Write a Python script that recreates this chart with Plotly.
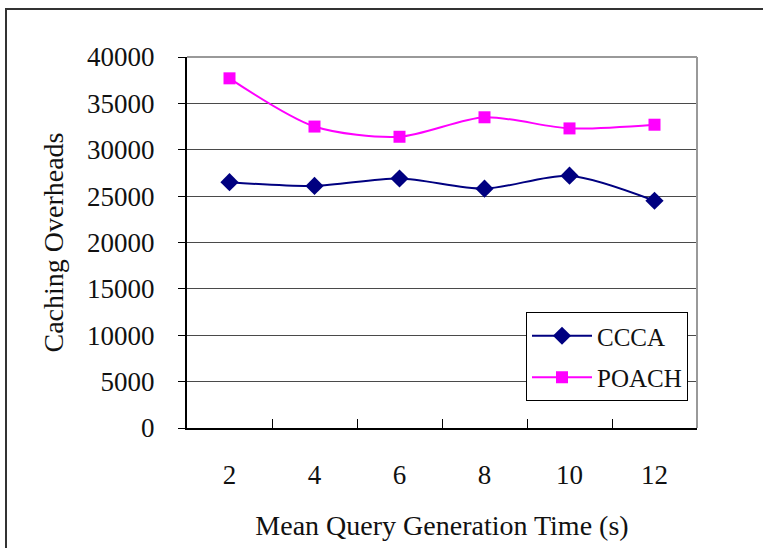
import plotly.graph_objects as go

categories = ["2", "4", "6", "8", "10", "12"]
ccca = [26500, 26100, 26900, 25800, 27200, 24500]
poach = [37700, 32500, 31400, 33500, 32300, 32700]
y_ticks = [0, 5000, 10000, 15000, 20000, 25000, 30000, 35000, 40000]

FONT = "Liberation Serif"

fig = go.Figure()
fig.add_trace(go.Scatter(
    x=categories, y=ccca, name="CCCA", mode="lines+markers", legendgroup="a",
    line=dict(color="#000080", width=2, shape="spline", smoothing=0.8),
    marker=dict(symbol="diamond", size=14, color="#000080"),
))
fig.add_trace(go.Scatter(
    x=categories, y=poach, name="POACH", mode="lines+markers", legendgroup="b",
    line=dict(color="#FF00FF", width=2, shape="spline", smoothing=0.8),
    marker=dict(symbol="square", size=12, color="#FF00FF"),
))

W, H = 763, 548
L, R, T, B = 187, 697, 57, 428
pw, ph = R - L, B - T

def px(x):
    return (x - L) / pw

def py(y):
    return (B - y) / ph

fig.update_layout(
    width=W, height=H,
    margin=dict(l=L, r=W - R, t=T, b=H - B, pad=0, autoexpand=False),
    paper_bgcolor="white", plot_bgcolor="white",
    font=dict(family=FONT, color="#111111", size=27),
    showlegend=True,
    legend=dict(
        x=px(526), y=py(312), xanchor="left", yanchor="top",
        bgcolor="white", bordercolor="black", borderwidth=1,
        font=dict(family=FONT, size=25, color="#111111"),
        tracegroupgap=6, itemwidth=60,
    ),
    xaxis=dict(
        type="category", range=[-0.5, 5.5], automargin=False,
        showgrid=False, zeroline=False,
        showline=True, linecolor="black", linewidth=2,
        ticks="inside", ticklen=9, tickcolor="black", tickwidth=1,
        tickson="boundaries", ticklabelstandoff=22,
        tickfont=dict(family=FONT, size=27),
        title=dict(text="Mean Query Generation Time (s)",
                   font=dict(family=FONT, size=28), standoff=26),
    ),
    yaxis=dict(
        range=[0, 40000], tickvals=y_ticks, automargin=False,
        ticktext=[str(v) for v in y_ticks],
        showgrid=True, gridcolor="#4a4a4a", gridwidth=1,
        zeroline=False,
        showline=True, linecolor="black", linewidth=2,
        ticks="outside", ticklen=7, tickcolor="black", tickwidth=1,
        ticklabelstandoff=18,
        tickfont=dict(family=FONT, size=27),
        title=dict(text="Caching Overheads",
                   font=dict(family=FONT, size=28), standoff=15),
    ),
    shapes=[
        dict(type="line", xref="paper", yref="paper", x0=0, x1=1, y0=1, y1=1,
             line=dict(color="#999999", width=2), layer="above"),
        dict(type="line", xref="paper", yref="paper", x0=1, x1=1, y0=0, y1=1,
             line=dict(color="#999999", width=2), layer="above"),
        dict(type="rect", xref="paper", yref="paper",
             x0=px(6), x1=px(W + 20), y0=py(H + 20), y1=py(9),
             line=dict(color="#333333", width=2), layer="below"),
    ],
)

fig.write_html("out.html")
